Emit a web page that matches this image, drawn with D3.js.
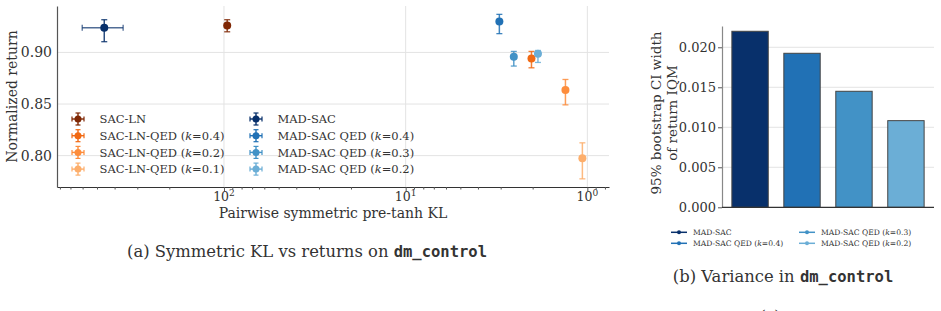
<!DOCTYPE html>
<html>
<head>
<meta charset="utf-8">
<script src="https://cdn.jsdelivr.net/npm/d3@7"></script>
<style>
  body { margin: 0; background: #fff; }
  text { font-family: "DejaVu Serif", serif; fill: #333; }
  .mono { font-family: "DejaVu Sans Mono", monospace; }
</style>
</head>
<body>
<script>
// scatter data: KL (x), return (y) and error bounds
const methods = ["SAC-LN", "SAC-LN-QED (k=0.4)", "SAC-LN-QED (k=0.2)", "SAC-LN-QED (k=0.1)",
                 "MAD-SAC", "MAD-SAC QED (k=0.4)", "MAD-SAC QED (k=0.3)", "MAD-SAC QED (k=0.2)"];
const colours = ["#7f2704", "#f16913", "#fd8d3c", "#fdae6b", "#08306b", "#2171b5", "#4292c6", "#6baed6"];
const klValues = [96, 2.03, 1.32, 1.065, 456, 3.05, 2.54, 1.87];
const klLow = [96, 2.03, 1.32, 1.065, 359, 3.05, 2.54, 1.87];
const klHigh = [96, 2.03, 1.32, 1.065, 603, 3.05, 2.54, 1.87];
const returns = [0.9262, 0.8942, 0.8635, 0.7975, 0.924, 0.930, 0.8958, 0.8987];
const returnLow = [0.920, 0.8851, 0.8492, 0.7775, 0.9104, 0.9182, 0.8868, 0.8903];
const returnHigh = [0.9317, 0.901, 0.8738, 0.8124, 0.9317, 0.9369, 0.901, 0.9019];
const yTicksA = [0.80, 0.85, 0.90];
const xMajor = [100, 10, 1];

// bar data
const barNames = ["MAD-SAC", "MAD-SAC QED (k=0.4)", "MAD-SAC QED (k=0.3)", "MAD-SAC QED (k=0.2)"];
const barColours = ["#08306b", "#2171b5", "#4292c6", "#6baed6"];
const ciWidth = [0.0220, 0.01925, 0.0145, 0.01083];
const yTicksB = [0.000, 0.005, 0.010, 0.015, 0.020];

const w = 941, h = 311;
const svg = d3.select("body").append("svg").attr("width", w).attr("height", h);

// writes a label where "k" is italic
function kLabel(sel, label) {
  const m = label.match(/^(.*\()k(=.*)$/);
  if (!m) { sel.text(label); return; }
  sel.append("tspan").text(m[1]);
  sel.append("tspan").style("font-style", "italic").text("k");
  sel.append("tspan").text(m[2]);
}

// ---------- (a) scatter ----------
const aLeft = 57, aRight = 609, aTop = 6, aBottom = 187;
const x = d3.scaleLog().domain([830, 0.76]).range([aLeft, aRight]);
const y = d3.scaleLinear().domain([0.7696, 0.945]).range([aBottom, aTop]);

const grid = svg.append("g");
grid.selectAll(".hg").data(yTicksA).enter().append("line")
    .attr("x1", aLeft).attr("x2", aRight)
    .attr("y1", d => y(d)).attr("y2", d => y(d))
    .attr("stroke", "#e3e3e3").attr("stroke-width", 1);
grid.selectAll(".vg").data(xMajor).enter().append("line")
    .attr("x1", d => x(d)).attr("x2", d => x(d))
    .attr("y1", aTop).attr("y2", aBottom)
    .attr("stroke", "#e3e3e3").attr("stroke-width", 1);

// x axis with minor ticks
const minor = x.ticks().filter(d => d >= 0.76 && d <= 830);
const xAxis = svg.append("g")
   .attr("transform", "translate(0," + aBottom + ")")
   .call(d3.axisBottom(x).tickValues(minor).tickFormat("").tickSizeOuter(0));
xAxis.select(".domain").attr("stroke", "#333").attr("stroke-width", 1.2);
xAxis.selectAll(".tick line")
   .attr("stroke", "#555")
   .attr("y2", d => xMajor.includes(d) ? 4 : 2.5);
xMajor.forEach(function(v) {
  const t = svg.append("text")
     .attr("x", x(v)).attr("y", 201)
     .attr("text-anchor", "middle")
     .style("font-size", "12.5px");
  t.append("tspan").text("10");
  t.append("tspan").attr("dy", -5).style("font-size", "9px").text(Math.round(Math.log10(v)));
});

// y axis
const yAxis = svg.append("g")
   .attr("transform", "translate(" + aLeft + ",0)")
   .call(d3.axisLeft(y).tickValues(yTicksA).tickFormat(d3.format(".2f")).tickSize(0).tickPadding(5));
yAxis.select(".domain").attr("stroke", "#555").attr("stroke-width", 1.2);
yAxis.selectAll("text").style("font-size", "14px").style("font-family", "DejaVu Serif").attr("fill", "#333");

svg.append("text")
   .attr("transform", "translate(17," + ((aTop + aBottom) / 2) + ") rotate(-90)")
   .attr("text-anchor", "middle")
   .style("font-size", "14px")
   .text("Normalized return");
svg.append("text")
   .attr("x", 333).attr("y", 218)
   .attr("text-anchor", "middle")
   .style("font-size", "14px")
   .text("Pairwise symmetric pre-tanh KL");

// points with error bars
const data = methods.map((m, i) => ({ name: m, c: colours[i], kx: klValues[i], kl: klLow[i], kh: klHigh[i],
                                       r: returns[i], rl: returnLow[i], rh: returnHigh[i] }));
const pts = svg.append("g").selectAll("g").data(data).enter().append("g");
pts.append("line")
   .attr("x1", d => x(d.kx)).attr("x2", d => x(d.kx))
   .attr("y1", d => y(d.rl)).attr("y2", d => y(d.rh))
   .attr("stroke", d => d.c).attr("stroke-width", 1.5).attr("opacity", 0.85);
pts.selectAll(".cap").data(d => [[d, d.rl], [d, d.rh]]).enter().append("line")
   .attr("x1", d => x(d[0].kx) - 3).attr("x2", d => x(d[0].kx) + 3)
   .attr("y1", d => y(d[1])).attr("y2", d => y(d[1]))
   .attr("stroke", d => d[0].c).attr("stroke-width", 1.3).attr("opacity", 0.85);
pts.filter(d => d.kl !== d.kh).append("line")
   .attr("x1", d => x(d.kl)).attr("x2", d => x(d.kh))
   .attr("y1", d => y(d.r)).attr("y2", d => y(d.r))
   .attr("stroke", d => d.c).attr("stroke-width", 1.5).attr("opacity", 0.7);
pts.filter(d => d.kl !== d.kh).selectAll(".hcap").data(d => [[d, d.kl], [d, d.kh]]).enter().append("line")
   .attr("x1", d => x(d[1])).attr("x2", d => x(d[1]))
   .attr("y1", d => y(d[0].r) - 3).attr("y2", d => y(d[0].r) + 3)
   .attr("stroke", d => d[0].c).attr("stroke-width", 1.3).attr("opacity", 0.7);
pts.append("circle")
   .attr("cx", d => x(d.kx)).attr("cy", d => y(d.r))
   .attr("r", 4).attr("fill", d => d.c);

// legend
const legend = svg.append("g");
data.forEach(function(d, i) {
  const col = Math.floor(i / 4), row = i % 4;
  const mx = col ? 256 : 78, my = 119 + row * 16.7;
  const g = legend.append("g").attr("transform", "translate(" + mx + "," + my + ")");
  g.append("line").attr("x1", -6).attr("x2", 6).attr("stroke", d.c).attr("stroke-width", 1.4);
  g.append("line").attr("y1", -6).attr("y2", 6).attr("stroke", d.c).attr("stroke-width", 1.4);
  [-6, 6].forEach(function(o) {
    g.append("line").attr("x1", o).attr("x2", o).attr("y1", -2.5).attr("y2", 2.5).attr("stroke", d.c).attr("stroke-width", 1.2);
    g.append("line").attr("y1", o).attr("y2", o).attr("x1", -2.5).attr("x2", 2.5).attr("stroke", d.c).attr("stroke-width", 1.2);
  });
  g.append("circle").attr("r", 3.5).attr("fill", d.c);
  const t = g.append("text").attr("x", 21.5).attr("y", 4.3).style("font-size", "11.5px");
  kLabel(t, d.name);
});

// caption (a)
const capA = svg.append("text").attr("x", 307).attr("y", 257).attr("text-anchor", "middle").style("font-size", "16.4px");
capA.append("tspan").text("(a) Symmetric KL vs returns on ");
capA.append("tspan").attr("class", "mono").style("font-weight", "bold").style("font-size", "15.5px").text("dm_control");

// ---------- (b) bars ----------
const bLeft = 722, bRight = 934, bTop = 26, bBottom = 207.3;
const xb = d3.scaleBand().domain(barNames).range([bLeft, bRight]).paddingInner(0.3).paddingOuter(0.19);
const yb = d3.scaleLinear().domain([0, 0.02266]).range([bBottom, bTop]);

svg.append("g").selectAll("line").data(yTicksB.slice(1)).enter().append("line")
   .attr("x1", bLeft).attr("x2", bRight)
   .attr("y1", d => yb(d)).attr("y2", d => yb(d))
   .attr("stroke", "#e3e3e3").attr("stroke-width", 1);

svg.append("g").selectAll("rect").data(barNames).enter().append("rect")
   .attr("x", d => xb(d))
   .attr("y", (d, i) => yb(ciWidth[i]))
   .attr("width", xb.bandwidth())
   .attr("height", (d, i) => bBottom - yb(ciWidth[i]))
   .attr("fill", (d, i) => barColours[i])
   .attr("stroke", "#444").attr("stroke-width", 1);

const ybAxis = svg.append("g")
   .attr("transform", "translate(" + bLeft + ",0)")
   .call(d3.axisLeft(yb).tickValues(yTicksB).tickFormat(d3.format(".3f")).tickSize(4).tickPadding(2).tickSizeOuter(0));
ybAxis.select(".domain").attr("stroke", "#888").attr("stroke-width", 1.2);
ybAxis.selectAll(".tick line").attr("stroke", "#555");
ybAxis.selectAll("text").style("font-size", "13px").style("font-family", "DejaVu Serif").attr("fill", "#333");
svg.append("line").attr("x1", bLeft).attr("x2", bRight).attr("y1", bBottom).attr("y2", bBottom)
   .attr("stroke", "#333").attr("stroke-width", 1.2);

const ybTitle = svg.append("text")
   .attr("transform", "translate(663,113) rotate(-90)")
   .attr("text-anchor", "middle")
   .style("font-size", "13.5px");
ybTitle.append("tspan").attr("x", 0).attr("dy", -2).text("95% bootstrap CI width");
ybTitle.append("tspan").attr("x", 0).attr("dy", 16).text("of return IQM");

// legend (b)
barNames.forEach(function(n, i) {
  const col = Math.floor(i / 2), row = i % 2;
  const lx = col ? 799 : 671, ly = 232.3 + row * 11;
  svg.append("line").attr("x1", lx).attr("x2", lx + 16).attr("y1", ly).attr("y2", ly)
     .attr("stroke", barColours[i]).attr("stroke-width", 1.5);
  svg.append("circle").attr("cx", lx + 8).attr("cy", ly).attr("r", 2).attr("fill", barColours[i]);
  const t = svg.append("text").attr("x", lx + 22).attr("y", ly + 2.7).style("font-size", "7.6px");
  kLabel(t, n);
});

// caption (b)
const capB = svg.append("text").attr("x", 783).attr("y", 282).attr("text-anchor", "middle").style("font-size", "16.4px");
capB.append("tspan").text("(b) Variance in ");
capB.append("tspan").attr("class", "mono").style("font-weight", "bold").style("font-size", "15.5px").text("dm_control");

// next caption, cut off at the bottom like in the source
svg.append("text").attr("x", 770).attr("y", 321).attr("text-anchor", "middle").style("font-size", "15px").text("(c)");
</script>
</body>
</html>
